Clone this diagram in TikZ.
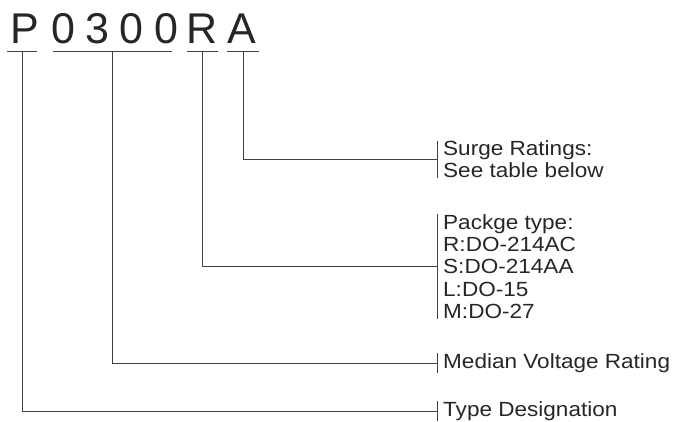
\documentclass[tikz,border=0pt]{standalone}
\usepackage{fontspec}
\setmainfont{Liberation Sans}
\newfontfamily\descfont{Liberation Sans}[FakeStretch=1.1]

\begin{document}
\begin{tikzpicture}[x=1pt,y=-1pt]
\tikzstyle{digit} = [inner sep=0pt, anchor=base, font=\fontsize{43}{43}\selectfont, text=black!85]
\tikzstyle{desc} = [inner xsep=6pt, inner ysep=0pt, anchor=west, align=left, font=\descfont\fontsize{20.5}{22.2}\selectfont, text=black!85]
\tikzstyle{wire} = [line width=0.9pt, draw=black!75]

\useasboundingbox (0,0) rectangle (676,421);

% part number letters
\node (cP) [digit] at (25,43) {P};
\node (c0a) [digit] at (63,43) {0};
\node (c3) [digit] at (97,43) {3};
\node (c0b) [digit] at (131,43) {0};
\node (c0c) [digit] at (166,43) {0};
\node (cR) [digit] at (202,43) {R};
\node (cA) [digit] at (242,43) {A};

% underline feet
\coordinate (uP) at (22,51);
\coordinate (uV) at (112.5,51);
\coordinate (uR) at (202.5,51);
\coordinate (uA) at (243,51);
\draw [wire] ([xshift=-15pt]uP) -- ([xshift=15pt]uP);
\draw [wire] ([xshift=-59.5pt]uV) -- ([xshift=59.5pt]uV);
\draw [wire] ([xshift=-15.5pt]uR) -- ([xshift=15.5pt]uR);
\draw [wire] ([xshift=-16pt]uA) -- ([xshift=16pt]uA);

% descriptions
\node (surge) [desc] at (437,159.5) {Surge Ratings:\\See table below};
\node (pkg) [desc] at (437,266.5) {Packge type:\\R:DO-214AC\\S:DO-214AA\\L:DO-15\\M:DO-27};
\node (volt) [desc] at (437,363) {Median Voltage Rating};
\node (type) [desc] at (437,411) {Type Designation};

\foreach \n in {surge,pkg,volt,type}
  \draw [wire] (\n.north west) -- (\n.south west);

\draw [wire] (uA) |- (surge.west);
\draw [wire] (uR) |- (pkg.west);
\draw [wire] (uV) |- (volt.west);
\draw [wire] (uP) |- (type.west);
\end{tikzpicture}
\end{document}
